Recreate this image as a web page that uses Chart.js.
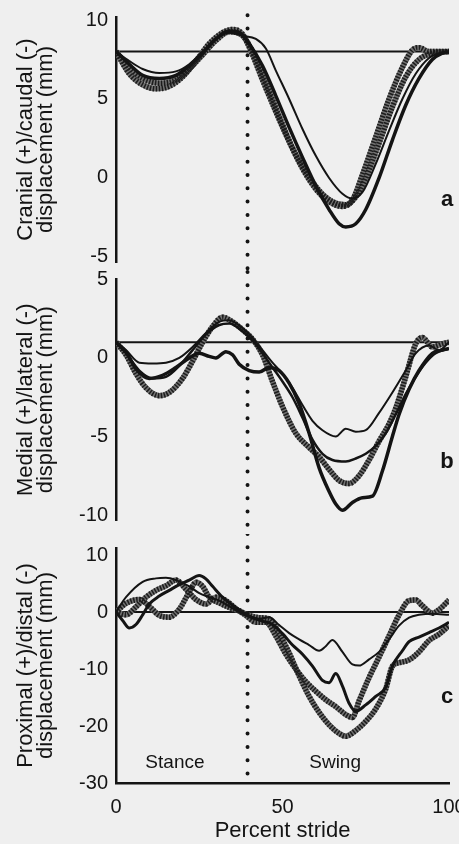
<!DOCTYPE html>
<html>
<head>
<meta charset="utf-8">
<script src="https://cdn.jsdelivr.net/npm/chart.js@4.4.1/dist/chart.umd.min.js"></script>
<style>
  body { margin: 0; background: #efefef; }
  canvas { position: absolute; left: 0; }
</style>
</head>
<body>
<canvas id="panelA" width="459" height="272" style="top:0px"></canvas>
<canvas id="panelB" width="459" height="274" style="top:260px"></canvas>
<canvas id="panelC" width="459" height="310" style="top:534px"></canvas>
<script>
// percent stride where stance ends (dotted line)
const stanceEnd = 39.5;
const strideTicks = [0, 50, 100];

// a: cranial/caudal displacement (mm), [percent stride, value]
const craniaThin = [[0,8.0],[4,7.4],[8,6.9],[13,6.65],[18,6.75],[22,7.2],[26,8.0],[30,8.8],[34,9.2],[38,9.0],[42,8.8],[45,8.2],[48,6.8],[52,5.0],[56,3.1],[60,1.4],[64,0.0],[68,-1.0],[71,-1.3],[74,-0.9],[78,0.9],[82,3.0],[86,5.0],[90,6.6],[94,7.6],[97,7.9],[100,8.0]];
const craniaThick = [[0,8.0],[4,7.2],[8,6.5],[13,6.3],[18,6.5],[22,7.1],[26,7.9],[30,8.8],[34,9.3],[37,9.2],[40,8.5],[44,7.1],[48,5.2],[52,3.2],[56,1.3],[60,-0.5],[64,-2.0],[67,-2.9],[69,-3.1],[72,-2.9],[75,-2.0],[79,0.0],[83,2.4],[87,4.6],[91,6.3],[95,7.5],[98,7.9],[100,8.0]];
const craniaHatchA = [[0,8.0],[4,6.6],[8,5.9],[12,5.65],[16,5.8],[20,6.4],[24,7.4],[28,8.5],[32,9.2],[35,9.4],[38,9.1],[41,7.8],[44,6.2],[48,4.2],[52,2.3],[56,0.6],[60,-0.7],[64,-1.5],[68,-1.8],[71,-1.4],[74,0.2],[78,2.6],[82,5.0],[86,7.0],[89,8.1],[91,8.25],[94,8.0],[97,8.0],[100,8.0]];
const craniaHatchB = [[0,8.0],[4,7.0],[8,6.3],[13,6.0],[18,6.2],[22,6.9],[26,7.8],[30,8.7],[34,9.25],[38,9.0],[41,8.0],[45,6.0],[49,3.9],[53,1.9],[57,0.4],[61,-0.8],[65,-1.5],[69,-1.7],[72,-1.2],[75,0.0],[79,2.2],[83,4.5],[87,6.4],[91,7.5],[95,7.9],[100,8.0]];
const craniaBase = 8;
const craniaTicks = [10, 5, 0, -5];

// b: medial/lateral displacement (mm)
const medialThin = [[0,1.0],[3,0.5],[7,-0.3],[11,-0.35],[15,-0.3],[19,0.0],[23,0.7],[27,1.6],[31,2.3],[34,2.4],[38,1.9],[41,1.3],[44,0.5],[47,-0.3],[50,-1.0],[53,-1.9],[56,-3.0],[59,-4.0],[62,-4.6],[66,-5.0],[69,-4.5],[72,-4.7],[75,-4.6],[79,-3.5],[83,-2.2],[87,-0.8],[90,0.3],[94,0.8],[97,0.5],[100,1.0]];
const medialThick = [[0,1.0],[3,0.4],[6,-0.7],[10,-1.3],[14,-1.1],[18,-0.6],[22,0.0],[25,0.3],[28,0.1],[30,0.0],[33,0.4],[35,0.2],[37,-0.4],[40,-0.8],[43,-0.9],[46,-0.6],[49,-0.8],[52,-1.6],[55,-2.9],[58,-4.8],[61,-7.0],[64,-8.5],[66,-9.3],[68,-9.7],[71,-9.2],[74,-8.9],[77,-8.8],[80,-7.2],[83,-5.0],[85,-3.6],[88,-2.0],[91,-0.8],[95,0.3],[98,0.5],[100,0.6]];
const medialMid = [[0,1.0],[3,0.3],[7,-0.8],[11,-1.3],[15,-1.2],[19,-0.5],[23,0.5],[27,1.5],[31,2.1],[34,2.2],[38,1.7],[41,1.1],[44,0.3],[47,-0.6],[50,-1.5],[53,-2.5],[56,-3.8],[59,-5.2],[62,-6.1],[65,-6.5],[69,-6.6],[72,-6.4],[75,-6.1],[78,-5.6],[81,-4.8],[84,-3.6],[87,-2.3],[90,-1.2],[93,-0.3],[96,0.3],[100,0.6]];
const medialHatch = [[0,1.0],[3,0.2],[6,-1.0],[9,-1.9],[13,-2.4],[16,-2.2],[20,-1.3],[23,-0.2],[26,1.0],[29,2.0],[32,2.6],[35,2.3],[38,1.8],[41,1.2],[44,0.2],[47,-1.5],[50,-3.1],[54,-4.8],[58,-5.7],[61,-6.3],[64,-7.1],[67,-7.8],[70,-8.0],[73,-7.5],[76,-6.5],[79,-5.3],[82,-4.2],[84,-3.2],[87,-1.2],[90,0.9],[92,1.3],[95,0.7],[98,0.9],[100,1.0]];
const medialBase = 1;
const medialTicks = [5, 0, -5, -10];

// c: proximal/distal displacement (mm)
const proxThin = [[0,0],[3,2.6],[8,5.3],[12,5.9],[15,6.0],[18,5.6],[22,4.5],[25,3.3],[28,2.6],[31,2.0],[34,1.0],[37,0.0],[40,-0.8],[43,-1.2],[46,-0.9],[49,-2.3],[52,-3.7],[55,-4.8],[58,-5.8],[61,-6.8],[63,-6.0],[65,-4.9],[68,-7.0],[71,-9.2],[73,-9.4],[76,-8.3],[79,-7.0],[82,-4.8],[85,-2.4],[88,-1.0],[91,-0.5],[95,-0.3],[100,-0.5]];
const proxThick = [[0,0],[2,-1.5],[4,-2.8],[6,-2.2],[8,-0.5],[10,1.4],[13,2.8],[16,3.8],[19,4.8],[22,5.6],[25,6.4],[27,5.8],[29,4.5],[32,2.6],[35,1.2],[38,0.0],[41,-1.0],[44,-1.6],[47,-2.2],[50,-3.8],[53,-5.8],[56,-7.4],[59,-9.5],[62,-12.0],[64,-12.4],[66,-10.8],[68,-13.0],[70,-16.0],[72,-17.4],[75,-16.3],[78,-14.8],[81,-13.2],[83,-9.5],[86,-6.8],[88,-5.2],[91,-4.4],[94,-3.6],[97,-2.8],[100,-1.8]];
const proxHatchA = [[0,0],[3,1.5],[7,2.2],[10,1.0],[13,-0.6],[16,-0.9],[19,0.5],[22,3.5],[24,5.2],[26,4.5],[28,2.6],[31,1.6],[34,0.8],[37,0.2],[40,-0.6],[43,-1.0],[46,-1.2],[49,-3.8],[52,-7.2],[55,-11.2],[58,-14.8],[61,-17.6],[64,-19.8],[67,-21.3],[69,-21.8],[72,-20.8],[75,-19.2],[78,-17.0],[81,-13.5],[83,-9.5],[85,-8.9],[88,-8.4],[91,-7.0],[94,-5.0],[97,-3.9],[100,-2.4]];
const proxHatchB = [[0,0],[3,-0.5],[6,0.9],[9,2.6],[12,3.8],[15,4.6],[18,5.6],[21,4.0],[24,2.2],[27,1.4],[30,2.6],[33,2.0],[36,0.6],[39,-0.6],[42,-1.8],[45,-1.8],[48,-4.2],[51,-7.4],[54,-10.0],[57,-12.2],[60,-13.9],[63,-15.4],[66,-16.6],[69,-18.0],[71,-18.5],[73,-15.6],[76,-11.5],[79,-7.9],[82,-4.2],[85,-0.5],[88,2.0],[90,2.1],[92,1.1],[95,-0.2],[97,0.4],[100,2.1]];
const proxBase = 0;
const proxTicks = [10, 0, -10, -20, -30];

const INK = '#141414';
Chart.defaults.font.family = "'Liberation Sans', Arial, sans-serif";
Chart.defaults.color = INK;

const pts = arr => arr.map(([x, y]) => ({ x, y }));

// writes text at data coordinates
const notes = {
  id: 'notes',
  afterDatasetsDraw(chart, args, opts) {
    const { ctx, scales } = chart;
    (opts.items || []).forEach(n => {
      ctx.save();
      ctx.font = n.font;
      ctx.fillStyle = INK;
      ctx.textAlign = 'center';
      ctx.textBaseline = 'middle';
      ctx.fillText(n.text, scales.x.getPixelForValue(n.x), scales.y.getPixelForValue(n.y));
      ctx.restore();
    });
  }
};

function makePanel(id, o) {
  const curve = { pointRadius: 0, fill: false, cubicInterpolationMode: 'monotone' };
  const straight = { pointRadius: 0, fill: false, tension: 0 };
  const datasets = [
    { ...straight, data: [{ x: stanceEnd, y: o.dotTop }, { x: stanceEnd, y: o.dotBottom }],
      borderColor: INK, borderWidth: 4, borderDash: [0.01, 13.3], borderCapStyle: 'round', clip: false, order: 0 },
    ...o.solid.map(([d, w]) => ({ ...curve, data: pts(d), borderColor: INK, borderWidth: w, order: 1 })),
    ...o.hatch.flatMap(d => [
      { ...curve, data: pts(d), borderColor: '#1c1c1c', borderWidth: 5.5, borderDash: [1.5, 1.5], order: 2 },
      { ...curve, data: pts(d), borderColor: '#727272', borderWidth: 5.5, order: 3 }
    ]),
    { ...straight, data: [{ x: 0, y: o.base }, { x: 100, y: o.base }], borderColor: INK, borderWidth: 2, order: 4 }
  ];

  return new Chart(document.getElementById(id), {
    type: 'line',
    data: { datasets },
    plugins: [notes],
    options: {
      responsive: false,
      animation: false,
      layout: { padding: o.padding },
      plugins: {
        legend: { display: false },
        tooltip: { enabled: false },
        notes: { items: o.notes }
      },
      scales: {
        x: {
          type: 'linear', min: 0, max: 100, display: o.showX,
          afterBuildTicks: ax => { ax.ticks = strideTicks.map(v => ({ value: v })); },
          afterFit: ax => { ax.paddingLeft = 0; ax.paddingRight = 0; if (o.showX) ax.height = 61; },
          grid: { display: false, drawTicks: false },
          border: { color: INK, width: 2.5 },
          ticks: { font: { size: 20 }, padding: 12, maxRotation: 0 },
          title: { display: true, text: 'Percent stride', font: { size: 22 }, padding: 0 }
        },
        y: {
          min: o.min, max: o.max,
          afterBuildTicks: ax => { ax.ticks = o.ticks.map(v => ({ value: v })); },
          afterFit: ax => { ax.width = 116; ax.paddingTop = 0; ax.paddingBottom = 0; },
          grid: { display: false, drawTicks: false },
          border: { color: INK, width: 2.5 },
          ticks: { font: { size: 20 }, padding: 8 },
          title: { display: true, text: o.title, font: { size: 22, lineHeight: 0.92 }, padding: { top: 16, bottom: 0 } }
        }
      }
    }
  });
}

const letter = 'bold 22px "Liberation Sans", Arial, sans-serif';
const phase = '19px "Liberation Sans", Arial, sans-serif';

makePanel('panelA', {
  min: -5.32, max: 10.19, ticks: craniaTicks, base: craniaBase,
  dotTop: 10.3, dotBottom: -5.95,
  padding: { top: 17, bottom: 10, left: 0, right: 10 },
  title: ['Cranial (+)/caudal (-)', 'displacement (mm)'],
  solid: [[craniaThin, 2], [craniaThick, 3.5]],
  hatch: [craniaHatchA, craniaHatchB],
  notes: [{ text: 'a', x: 99.4, y: -1.4, font: letter }],
  showX: false
});

makePanel('panelB', {
  min: -10.35, max: 5.03, ticks: medialTicks, base: medialBase,
  dotTop: 5.48, dotBottom: -11.2,
  padding: { top: 19, bottom: 13.5, left: 0, right: 10 },
  title: ['Medial (+)/lateral (-)', 'displacement (mm)'],
  solid: [[medialThin, 2], [medialThick, 3.5], [medialMid, 2.5]],
  hatch: [medialHatch],
  notes: [{ text: 'b', x: 99.4, y: -6.6, font: letter }],
  showX: false
});

makePanel('panelC', {
  min: -30, max: 11.23, ticks: proxTicks, base: proxBase,
  dotTop: 13.7, dotBottom: -30,
  padding: { top: 14, bottom: 0, left: 0, right: 10 },
  title: ['Proximal (+)/distal (-)', 'displacement (mm)'],
  solid: [[proxThin, 2], [proxThick, 3]],
  hatch: [proxHatchA, proxHatchB],
  notes: [
    { text: 'c', x: 99.4, y: -14.9, font: letter },
    { text: 'Stance', x: 17.7, y: -26.5, font: phase },
    { text: 'Swing', x: 65.8, y: -26.5, font: phase }
  ],
  showX: true
});
</script>
</body>
</html>
